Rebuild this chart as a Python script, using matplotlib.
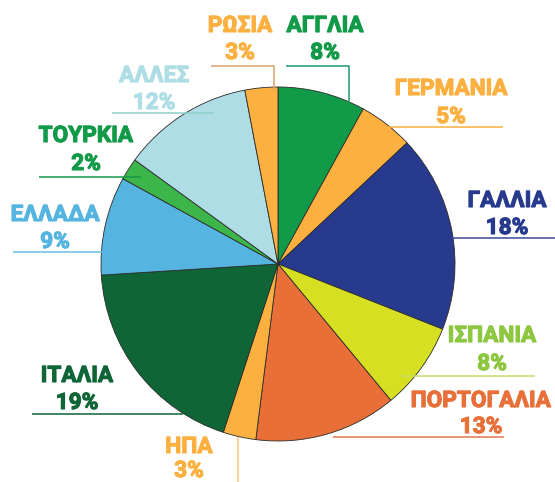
import matplotlib
matplotlib.use("Agg")
import matplotlib.pyplot as plt
import matplotlib.patheffects as pe

# Data (clockwise from 12 o'clock)
countries = ["ΑΓΓΛΙΑ", "ΓΕΡΜΑΝΙΑ", "ΓΑΛΛΙΑ", "ΙΣΠΑΝΙΑ", "ΠΟΡΤΟΓΑΛΙΑ", "ΗΠΑ",
             "ΙΤΑΛΙΑ", "ΕΛΛΑΔΑ", "ΤΟΥΡΚΙΑ", "ΑΛΛΕΣ", "ΡΩΣΙΑ"]
shares = [8, 5, 18, 8, 13, 3, 19, 9, 2, 12, 3]

wedge_colors = ["#119a48", "#fbb040", "#283a8e", "#d7df23", "#e87038", "#fbb040",
                "#0f6535", "#55b5e0", "#3cb54a", "#aedde5", "#fbb040"]
text_colors = ["#119a48", "#fbb040", "#283a8e", "#8dc63f", "#e87038", "#fbb040",
               "#0f6535", "#55b5e0", "#119a48", "#aedde5", "#fbb040"]
line_colors = ["#1b9a6a", "#fbb040", "#3a4a9a", "#c9dc6a", "#e07850", "#fbc880",
               "#0f6535", "#6cc0e6", "#119a48", "#8fcfc8", "#d9a36a"]

# Layout in pixel coordinates (from top-left): label centre x, name baseline, pct baseline,
# leader polyline points
H = 482
layout = {
    "ΑΓΓΛΙΑ":     (325, 32, 59,  [(286, 66), (349, 66), (349, 103)]),
    "ΓΕΡΜΑΝΙΑ":   (451, 95, 123, [(385, 127), (503, 127)]),
    "ΓΑΛΛΙΑ":     (507, 207, 234, [(452, 238), (555, 238)]),
    "ΙΣΠΑΝΙΑ":    (492, 342, 370, [(401, 376), (535, 376)]),
    "ΠΟΡΤΟΓΑΛΙΑ": (481, 407, 433, [(333, 437), (504, 437)]),
    "ΗΠΑ":        (189, 453, 477, [(238, 437), (238, 482)]),
    "ΙΤΑΛΙΑ":     (77, 382, 409,  [(32, 414), (183, 414)]),
    "ΕΛΛΑΔΑ":     (55, 221, 248,  [(13, 252), (102, 252)]),
    "ΤΟΥΡΚΙΑ":    (86, 142, 170,  [(39, 177), (141, 177)]),
    "ΑΛΛΕΣ":      (154, 82, 109,  [(112, 113), (213, 113)]),
    "ΡΩΣΙΑ":      (240, 32, 59,   [(211, 66), (274, 66), (274, 90)]),
}

fig = plt.figure(figsize=(5.55, 4.82), dpi=100)
ax = fig.add_axes([0, 0, 1, 1])

ax.pie(shares, colors=wedge_colors, startangle=90, counterclock=False,
       center=(278, H - 264), radius=177,
       wedgeprops=dict(edgecolor="#2a2a2a", linewidth=0.6))

fs = 16.3
for name, share, tc, lc in zip(countries, shares, text_colors, line_colors):
    cx, yb1, yb2, pts = layout[name]
    effects = [pe.withStroke(linewidth=0.8, foreground=tc)]
    ax.text(cx, H - yb1, name, color=tc, fontsize=fs, fontweight="bold",
            family="Roboto", ha="center", va="baseline", path_effects=effects)
    ax.text(cx, H - yb2, f"{share}%", color=tc, fontsize=fs, fontweight="bold",
            family="Roboto", ha="center", va="baseline", path_effects=effects)
    xs = [p[0] for p in pts]
    ys = [H - p[1] for p in pts]
    ax.plot(xs, ys, color=lc, linewidth=1.1, solid_capstyle="butt")

ax.set_xlim(0, 555)
ax.set_ylim(0, H)
ax.set_aspect("equal")
ax.axis("off")

fig.savefig("out.png", dpi=100)
